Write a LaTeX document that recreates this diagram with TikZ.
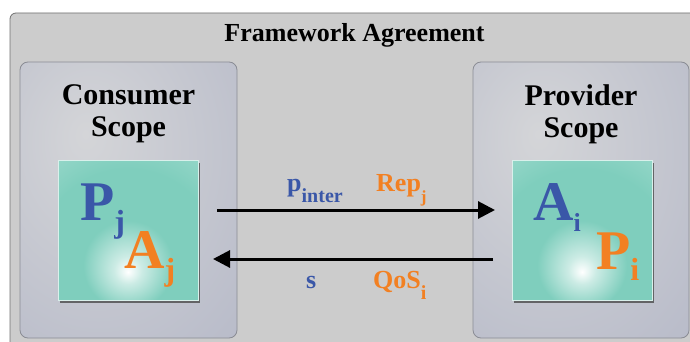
\documentclass[tikz,border=0pt]{standalone}
\usepackage{fontspec}
\setmainfont{Liberation Serif}
\usetikzlibrary{arrows.meta,shadows}

\definecolor{frameGray}{HTML}{CCCCCC}
\definecolor{frameLine}{HTML}{707070}
\definecolor{scopeLine}{HTML}{8A8C94}
\definecolor{scopeOut}{HTML}{B8BBC9}
\definecolor{scopeIn}{HTML}{D4D5D8}
\definecolor{tealBox}{HTML}{7FCEBD}
\definecolor{agBlue}{HTML}{3A57A8}
\definecolor{agOrange}{HTML}{F28022}

\pgfdeclareradialshading{scopeglow}{\pgfpoint{-10bp}{12bp}}{color(0bp)=(scopeIn); color(45bp)=(scopeOut); color(100bp)=(scopeOut)}
\pgfdeclareradialshading{tealglow}{\pgfpoint{0bp}{-15bp}}{color(0bp)=(white); color(5bp)=(tealBox!40!white); color(16bp)=(tealBox); color(32bp)=(tealBox); color(45bp)=(tealBox!80!white); color(100bp)=(tealBox!70!white)}

% lowered index: shift, size, text
\newcommand\lowsub[3]{\raisebox{-#1pt}{\fontsize{#2}{#2}\selectfont #3}}

\tikzset{
  >={Triangle[length=17pt,width=17pt]},
  scopebox/.style={draw=scopeLine, line width=0.8pt, rounded corners=8pt,
    shade, shading=scopeglow, minimum width=217pt, minimum height=276pt,
    inner sep=0pt, outer sep=0pt},
  agentbox/.style={draw=white!70!tealBox, line width=0.8pt, shade, shading=tealglow,
    minimum size=140pt, inner sep=0pt, outer sep=0pt,
    drop shadow={shadow xshift=1.5pt, shadow yshift=-2.5pt, fill=black!70, opacity=0.8}},
  flow/.style={->, line width=3pt},
  role/.style={inner sep=0pt, anchor=base west, font=\fontsize{56}{56}\selectfont\bfseries},
  msg/.style={inner sep=0pt, anchor=base west, font=\fontsize{26}{26}\selectfont\bfseries},
  heading/.style={inner sep=0pt, align=center, anchor=north, font=\fontsize{30}{32}\selectfont\bfseries},
}

\begin{document}
\begin{tikzpicture}[x=1pt, y=-1pt]

  \useasboundingbox (0,0) rectangle (690,342);
  \clip (0,0) rectangle (690,342);

  % agreement frame
  \draw[draw=frameLine, fill=frameGray, line width=0.8pt, rounded corners=6pt] (10,13) rectangle (720,370);
  \node[inner sep=0pt, anchor=base, font=\fontsize{26}{26}\selectfont\bfseries] (title) at (354.5,42) {Framework Agreement};

  % scopes
  \node[scopebox] (consumer) at (128.5,200) {};
  \node[scopebox, minimum width=216pt] (provider) at (581,200) {};
  \node[heading] (consumerTitle) at (128.5,84) {Consumer\\Scope};
  \node[heading] (providerTitle) at (581,84) {Provider\\Scope};

  % agents
  \node[agentbox] (cons) at (128,230) {};
  \node[agentbox] (prov) at (582,230) {};

  \node[role, text=agBlue] (pj) at (80,220) {P\lowsub{12}{32}{j}};
  \node[role, text=agOrange] (aj) at (124,268) {A\lowsub{12}{32}{j}};
  \node[role, text=agBlue] (ai) at (533,220) {A\lowsub{11}{26}{i}};
  \node[role, text=agOrange] (pi) at (596,269) {P\lowsub{11}{32}{i}};

  % messages
  \draw[flow, shorten <=19pt, shorten >=17pt] ([yshift=20pt]cons.east) -- ([yshift=20pt]prov.west); % cons->prov
  \draw[flow, shorten <=19pt, shorten >=15pt] ([yshift=-29pt]prov.west) -- ([yshift=-29pt]cons.east); % prov->cons

  \node[msg, text=agBlue] (pinter) at (287,191) {p\lowsub{11}{20}{inter}};
  \node[msg, text=agOrange] (rep) at (376,191) {Rep\lowsub{11}{17}{j}};
  \node[msg, text=agBlue] (sval) at (306,288) {s};
  \node[msg, text=agOrange] (qos) at (373,288) {QoS\lowsub{11}{20}{i}};

\end{tikzpicture}
\end{document}
